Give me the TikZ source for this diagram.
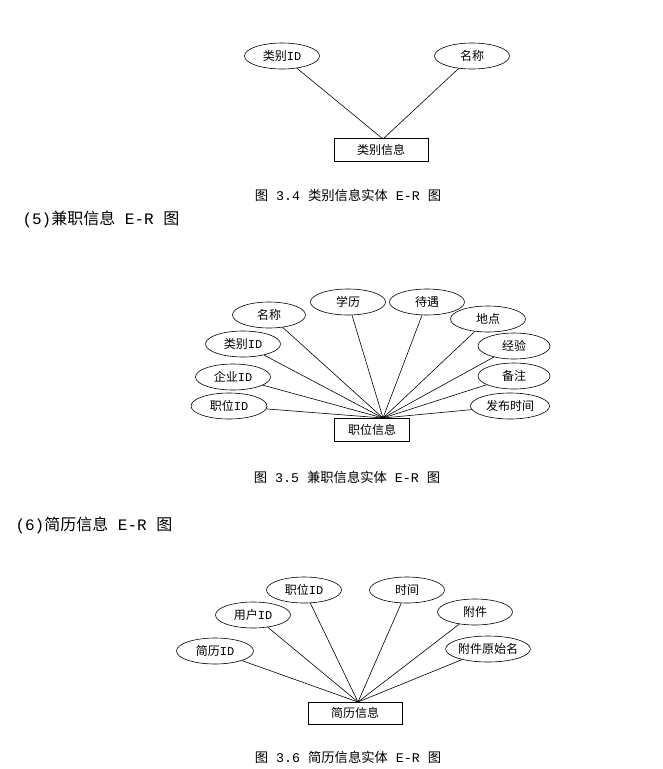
\documentclass[tikz,border=0pt]{standalone}
\usepackage{fontspec}
\setmainfont{Noto Sans CJK SC}
\newfontfamily\lm{Liberation Mono}
\usetikzlibrary{shapes.geometric}
\begin{document}
\begin{tikzpicture}[x=1pt,y=-1pt,
 attr/.style={ellipse,draw,line width=0.6pt,minimum width=75pt,minimum height=26pt,inner sep=0pt,font=\fontsize{12}{14}\selectfont},
 ent/.style={rectangle,draw,line width=0.9pt,minimum width=94pt,minimum height=23pt,inner sep=0pt,font=\fontsize{12}{14}\selectfont},
 link/.style={line width=0.6pt},
 figcap/.style={font=\fontsize{13.3}{15}\selectfont},
 head/.style={font=\fontsize{16}{18}\selectfont,anchor=west}]
\useasboundingbox (0,0) rectangle (662,769);
% ---- figure 3.4
\node[attr] (a1) at (282,56) {类别{\lm ID}};
\node[attr] (a2) at (472,56) {名称};
\node[ent] (e1) at (381,150) {类别信息};
\coordinate (p1) at (383,139);
\draw[link] (a1) -- (p1);
\draw[link] (a2) -- (p1);
\node[figcap] (c1) at (348,195) {图{\lm~3.4~}类别信息实体{\lm~E-R~}图};
\node[head] (h5) at (19,219) {{\lm(5)}兼职信息{\lm~E-R~}图};
% ---- figure 3.5
\node[attr,minimum width=73pt] (b1) at (269,315) {名称};
\node[attr] (b2) at (348,302) {学历};
\node[attr] (b3) at (427,302) {待遇};
\node[attr] (b4) at (488,319) {地点};
\node[attr,minimum width=72pt] (b5) at (514,346) {经验};
\node[attr,minimum width=72pt] (b6) at (514,376) {备注};
\node[attr,minimum width=79pt] (b7) at (510,406) {发布时间};
\node[attr] (b8) at (243,344) {类别{\lm ID}};
\node[attr] (b9) at (233,377) {企业{\lm ID}};
\node[attr,minimum width=76pt] (b10) at (229,406) {职位{\lm ID}};
\node[ent,minimum width=75pt] (e2) at (372,430) {职位信息};
\coordinate (p2) at (383,418);
\foreach \n in {b1,b2,b3,b4,b5,b6,b7,b8,b9,b10}{\draw[link] (\n) -- (p2);}
\node[figcap] (c2) at (347,477) {图{\lm~3.5~}兼职信息实体{\lm~E-R~}图};
\node[head] (h6) at (12,525) {{\lm(6)}简历信息{\lm~E-R~}图};
% ---- figure 3.6
\node[attr] (d1) at (304,590) {职位{\lm ID}};
\node[attr] (d2) at (407,590) {时间};
\node[attr] (d3) at (253,615) {用户{\lm ID}};
\node[attr] (d4) at (475,612) {附件};
\node[attr,minimum width=77pt] (d5) at (215,651) {简历{\lm ID}};
\node[attr,minimum width=76pt] (d6) at (488,649) {附件原始名};
\node[ent,minimum height=22pt] (e3) at (355,713) {简历信息};
\coordinate (p3) at (358,702);
\foreach \n in {d1,d2,d3,d4,d5,d6}{\draw[link] (\n) -- (p3);}
\node[figcap] (c3) at (348,757) {图{\lm~3.6~}简历信息实体{\lm~E-R~}图};
\end{tikzpicture}
\end{document}
